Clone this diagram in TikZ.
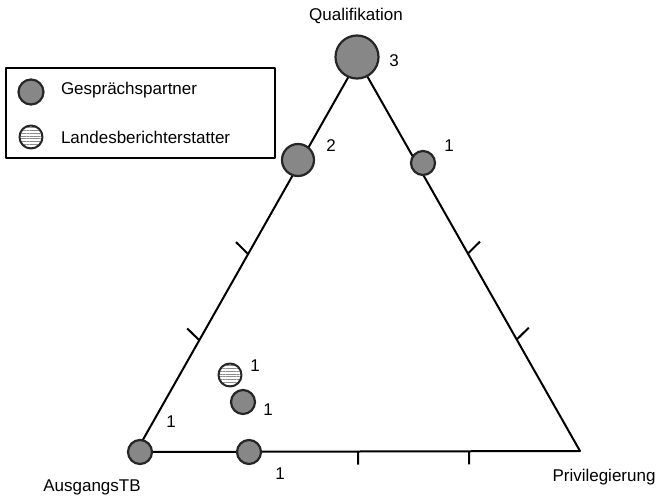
\documentclass[tikz,border=0pt]{standalone}
\usepackage{fontspec}
\setmainfont{Liberation Sans}
\usetikzlibrary{calc, patterns.meta}

\begin{document}
\begin{tikzpicture}[
                x = 1pt, y = -1pt, % one unit per pixel, y runs down
                line width = 2pt, % line style
                line join = round,
                font = \fontsize{17}{20}\selectfont
            ]

            \tikzstyle{gp}=[draw = black!85, circle, fill = black!47,
            line width = 2.2pt, inner sep = 0pt, minimum size = 24pt]
            \tikzstyle{lb}=[draw = black!85, circle, line width = 2pt,
            inner sep = 0pt, minimum size = 23pt, preaction = {fill = white},
            pattern = {Lines[angle = 0, distance = 2.8pt, line width = 0.8pt]},
            pattern color = black!45]
            \tikzstyle{num}=[inner sep = 0pt]

            \useasboundingbox (0,0) rectangle (658,500);

            % corners of the triangle
            \coordinate (A) at (136,452); \coordinate (B) at (580,451);
            \coordinate (C) at (358,60);

            \draw (A) -- (B) -- (C) -- cycle;

            % scale marks
            \foreach \t in {0.285, 0.505} {
                \coordinate (l) at ($(A)!\t!(C)$);
                \draw (l) -- ($(l)!17pt!75:(C)$);
                \coordinate (r) at ($(B)!\t!(C)$);
                \draw (r) -- ($(r)!17pt!-75:(C)$);
            }
            \foreach \t in {0.5, 0.75} {
                \coordinate (b) at ($(A)!\t!(B)$);
                \draw (b) -- ($(b)!13pt!-90:(B)$);
            }

            % corner labels
            \node (qual) at (356,21) [anchor = base] {Qualifikation};
            \node (ausg) at (92,491) [anchor = base] {AusgangsTB};
            \node (priv) at (604,481) [anchor = base] {Privilegierung};

            % positions
            \node (q3) [gp, minimum size = 43pt] at (357,57) {};
            \node (q2) [gp, minimum size = 32pt] at (298,160) {};
            \node (p1) [gp] at (423,163) {};
            \node (l1) [lb] at (230,375) {};
            \node (m1) [gp] at (243,402) {};
            \node (b1) [gp] at (249,452) {};
            \node (a1) [gp] at (140,452) {};

            \node [num] at (394,61) {3}; \node [num] at (331,146) {2};
            \node [num] at (449,146) {1}; \node [num] at (255,366) {1};
            \node [num] at (268,410) {1}; \node [num] at (280,474) {1};
            \node [num] at (171,422) {1};

            % legend
            \node (legend) [draw, line width = 1.6pt, anchor = north west,
            minimum width = 269pt, minimum height = 90pt] at (5,67) {};
            \node (lg1) [gp, minimum size = 25pt] at (31,92) {};
            \node (lg2) [lb] at (31,137) {};
            \node (tg1) [anchor = base west, inner sep = 0pt] at (60,95)
            {Gesprächspartner};
            \node (tg2) [anchor = base west, inner sep = 0pt] at (60,143)
            {Landesberichterstatter};

        \end{tikzpicture}
\end{document}
